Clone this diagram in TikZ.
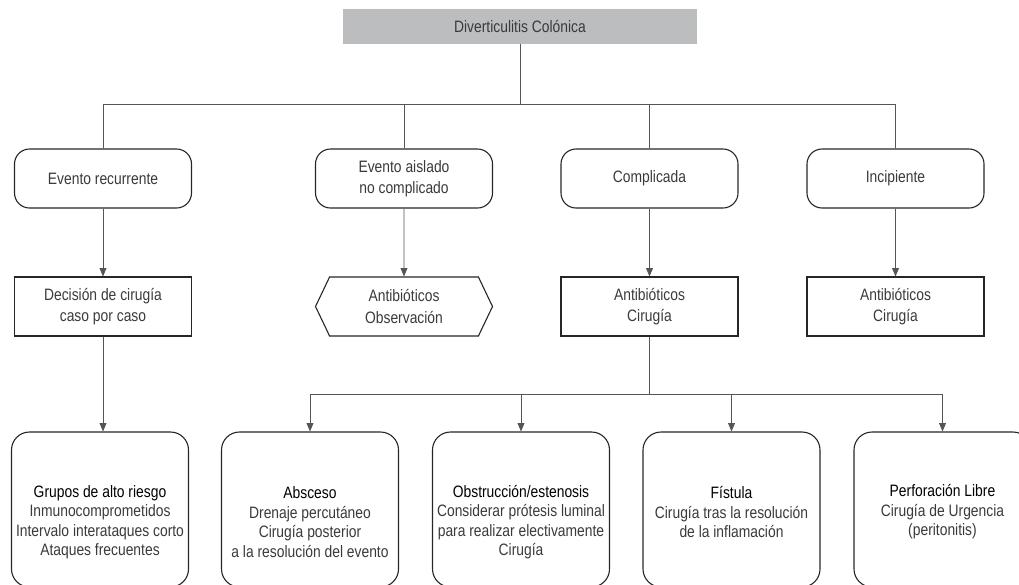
\documentclass[tikz,border=0pt]{standalone}
\usepackage{fontspec}
\setmainfont{Liberation Sans}[FakeStretch=0.84]
\usetikzlibrary{arrows,shapes.symbols,positioning}

\definecolor{titlegray}{HTML}{BCBDBF}
\definecolor{linegray}{HTML}{555555}
\definecolor{txtgray}{HTML}{3A3A3A}

\tikzset{
  every node/.style={font=\fontsize{16.5}{21.5}\selectfont, text=txtgray, align=center},
  topbox/.style={fill=titlegray, minimum width=354pt, minimum height=35pt},
  roundbox/.style={draw=black!85, line width=1.1pt, rounded corners=15pt,
    minimum width=177pt, minimum height=59pt},
  rectbox/.style={draw=black!85, line width=1.1pt, minimum width=177pt, minimum height=59pt},
  hexbox/.style={signal, signal to=west and east, signal pointer angle=129,
    draw=black!85, line width=1.1pt, minimum width=177pt, minimum height=59pt},
  bigbox/.style={draw=black!85, line width=1.1pt, rounded corners=18pt,
    minimum width=177pt, minimum height=155pt},
  bigtext/.style={font=\fontsize{16.5}{19.5}\selectfont},
  conn/.style={draw=linegray, line width=0.9pt},
  arr/.style={conn, -triangle 45},
}

\newcommand{\hd}[1]{\textcolor{black}{#1}}

\begin{document}
\begin{tikzpicture}[x=1pt,y=-1pt]
\useasboundingbox (0,0) rectangle (1019,584);
\clip (0,0) rectangle (1019,584);

\node[topbox] (diag) at (520,26.5) {Diverticulitis Colónica};
\coordinate (bus1) at (520,104);
\coordinate (bus2) at (650,394);

% second row
\node[roundbox] (recur) at (103,178.5) {Evento recurrente};
\node[roundbox] (aisl) at (404,178.5) {Evento aislado\\no complicado};
\node[roundbox] (compl) at (649.5,178.5) {Complicada};
\node[roundbox] (incip) at (895.5,178.5) {Incipiente};

% third row
\node[rectbox] (decis) at (103,306.5) {Decisión de cirugía\\caso por caso};
\node[hexbox] (obs) at (404,306.5) {Antibióticos\\Observación};
\node[rectbox] (atbc) at (649.5,306.5) {Antibióticos\\Cirugía};
\node[rectbox] (atbi) at (895.5,306.5) {Antibióticos\\Cirugía};

% bottom row
\node[bigbox] (grupos) at (100,509.5) {};
\node[bigbox] (absc) at (310,509.5) {};
\node[bigbox] (obstr) at (521,509.5) {};
\node[bigbox] (fist) at (731.5,509.5) {};
\node[bigbox] (perf) at (942.5,509.5) {};
\node[bigtext] (grupos-t) at (100,522) {\hd{Grupos de alto riesgo}\\Inmunocomprometidos\\Intervalo interataques corto\\Ataques frecuentes};
\node[bigtext] (absc-t) at (310,522) {\hd{Absceso}\\Drenaje percutáneo\\Cirugía posterior\\a la resolución del evento};
\node[bigtext] (obstr-t) at (521,522) {\hd{Obstrucción/estenosis}\\Considerar prótesis luminal\\para realizar electivamente\\Cirugía};
\node[bigtext] (fist-t) at (731.5,512) {\hd{Fístula}\\Cirugía tras la resolución\\de la inflamación};
\node[bigtext] (perf-t) at (942.5,512) {\hd{Perforación Libre}\\Cirugía de Urgencia\\(peritonitis)};

% connectors
\draw[conn] (diag.south) -- (diag.south |- bus1);
\draw[conn] (recur.north) |- (incip.north |- bus1) -- (incip.north);
\draw[conn] (aisl.north) -- (aisl.north |- bus1);
\draw[conn] (compl.north) -- (compl.north |- bus1);
\draw[arr] (recur) -- (decis);
\draw[arr] (aisl) -- (obs);
\draw[arr] (compl) -- (atbc);
\draw[arr] (incip) -- (atbi);
\draw[arr] (decis.south) -- (decis.south |- grupos.north);
\draw[conn] (atbc.south) -- (atbc.south |- bus2);
\draw[conn] (absc.north |- bus2) -- (perf.north |- bus2);
\foreach \n in {absc,obstr,fist,perf}
  \draw[arr] (\n.north |- bus2) -- (\n.north);
\end{tikzpicture}
\end{document}
